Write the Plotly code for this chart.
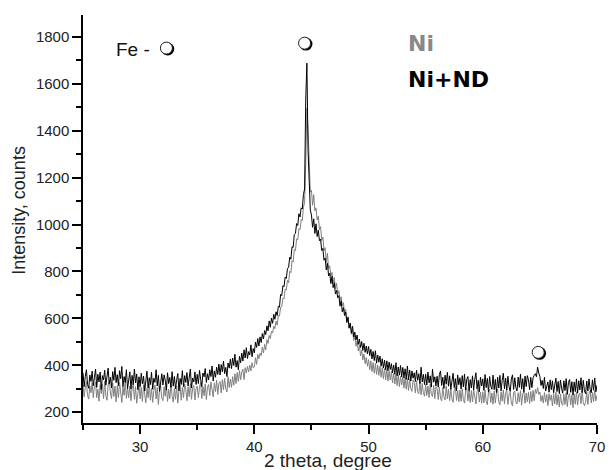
import plotly.graph_objects as go

# XRD scan, 2 theta from 25 to 70 deg, step 0.1
scan_start = 25.0
scan_step = 0.1

# Ni+ND coating (black)
ni_nd = [
    368, 309, 352, 381, 318, 302, 359, 331, 375, 313,
    347, 384, 306, 362, 329, 371, 297, 356, 338, 379,
    315, 366, 388, 321, 349, 304, 373, 336, 391, 326,
    360, 312, 377, 343, 395, 309, 352, 327, 381, 301,
    348, 372, 299, 357, 318, 384, 325, 363, 296, 351,
    309, 366, 321, 354, 290, 341, 375, 303, 347, 318,
    370, 298, 345, 327, 381, 312, 357, 289, 342, 364,
    316, 359, 337, 294, 368, 322, 348, 305, 373, 311,
    352, 300, 338, 365, 291, 344, 318, 377, 309, 356,
    327, 369, 312, 351, 384, 303, 346, 329, 372, 318,
    361, 322, 378, 340, 309, 367, 351, 386, 327, 364,
    338, 381, 352, 397, 333, 376, 349, 392, 361, 405,
    359, 403, 372, 418, 364, 391, 352, 410, 388, 426,
    386, 431, 399, 447, 392, 420, 381, 438, 411, 452,
    418, 466, 431, 475, 429, 458, 444, 487, 436, 471,
    453, 499, 476, 514, 482, 521, 497, 535, 512, 548,
    531, 568, 547, 589, 562, 601, 579, 617, 596, 628,
    612, 651, 648, 702, 697, 739, 735, 776, 770, 812,
    818, 861, 852, 905, 903, 957, 962, 1004, 996, 1046,
    1032, 1071, 1066, 1128, 1151, 1530, 1688, 1320, 1172, 1062,
    1041, 988, 1024, 962, 1003, 949, 976, 931, 938, 889,
    898, 848, 857, 806, 835, 781, 792, 748, 779, 731,
    752, 704, 719, 688, 697, 652, 675, 628, 646, 612,
    627, 582, 604, 558, 580, 537, 566, 521, 541, 508,
    529, 489, 512, 476, 501, 463, 494, 455, 482, 449,
    480, 441, 468, 427, 459, 420, 462, 409, 444, 413,
    439, 396, 428, 388, 422, 381, 419, 377, 414, 382,
    407, 368, 401, 362, 411, 355, 393, 358, 399, 351,
    391, 347, 385, 340, 397, 338, 380, 333, 376, 345,
    368, 331, 379, 336, 364, 322, 392, 329, 361, 318,
    362, 316, 371, 325, 355, 307, 383, 328, 351, 312,
    353, 307, 361, 376, 314, 349, 301, 358, 319, 370,
    311, 355, 298, 348, 366, 305, 343, 292, 359, 317,
    347, 299, 356, 308, 363, 294, 341, 352, 289, 339,
    303, 355, 296, 341, 368, 299, 336, 287, 349, 312,
    342, 293, 361, 305, 344, 286, 352, 311, 298, 358,
    296, 340, 284, 349, 303, 357, 291, 335, 366, 300,
    345, 294, 353, 309, 288, 341, 359, 297, 347, 304,
    291, 350, 306, 362, 298, 343, 285, 354, 309, 356,
    338, 296, 349, 305, 346, 357, 364, 351, 392, 367,
    352, 314, 336, 301, 349, 290, 311, 329, 285, 338,
    296, 334, 283, 327, 345, 288, 331, 279, 337, 302,
    281, 334, 292, 343, 276, 327, 339, 285, 330, 273,
    329, 288, 342, 281, 334, 295, 347, 284, 336, 291,
    279, 333, 290, 342, 297, 283, 338, 294, 346, 287,
    315,
]

# pure Ni coating (grey)
ni = [
    318, 265, 304, 331, 271, 256, 312, 283, 326, 262,
    309, 329, 262, 298, 247, 317, 279, 321, 258, 333,
    271, 251, 314, 336, 282, 258, 325, 267, 311, 244,
    313, 263, 327, 289, 241, 308, 272, 334, 259, 304,
    262, 311, 249, 301, 322, 255, 309, 238, 292, 318,
    257, 306, 246, 314, 276, 240, 303, 262, 321, 251,
    302, 242, 293, 316, 256, 305, 233, 297, 311, 259,
    249, 309, 268, 322, 246, 298, 257, 318, 271, 243,
    301, 255, 312, 239, 289, 317, 251, 306, 262, 320,
    298, 249, 309, 266, 322, 255, 303, 314, 252, 301,
    312, 262, 306, 327, 258, 309, 270, 321, 254, 307,
    318, 271, 329, 283, 265, 325, 288, 337, 276, 322,
    331, 282, 339, 296, 344, 301, 286, 351, 305, 341,
    306, 352, 315, 364, 322, 369, 331, 378, 338, 371,
    384, 339, 390, 367, 395, 372, 401, 376, 411, 389,
    393, 432, 404, 446, 428, 452, 441, 477, 452, 489,
    466, 509, 493, 527, 514, 545, 538, 567, 556, 588,
    571, 611, 610, 648, 650, 686, 683, 725, 721, 762,
    752, 801, 795, 846, 840, 893, 889, 938, 935, 982,
    978, 1021, 1017, 1074, 1093, 1260, 1495, 1410, 1231, 1138,
    1146, 1082, 1127, 1058, 1071, 1019, 1036, 978, 991, 932,
    946, 889, 901, 837, 878, 812, 824, 779, 796, 751,
    774, 727, 750, 703, 718, 676, 692, 654, 667, 622,
    638, 588, 607, 559, 578, 532, 549, 506, 526, 481,
    504, 461, 485, 440, 463, 423, 448, 407, 433, 396,
    424, 381, 419, 373, 412, 366, 408, 361, 401, 357,
    396, 349, 389, 343, 386, 339, 382, 333, 377, 337,
    374, 325, 366, 320, 363, 313, 359, 309, 354, 316,
    351, 303, 348, 298, 343, 293, 340, 301, 289, 338,
    327, 282, 334, 288, 279, 329, 274, 322, 283, 268,
    319, 271, 312, 262, 321, 275, 266, 315, 258, 309,
    302, 254, 307, 261, 248, 305, 265, 252, 311, 257,
    298, 249, 303, 257, 242, 296, 307, 250, 292, 245,
    295, 246, 300, 254, 239, 293, 304, 248, 288, 241,
    292, 244, 298, 252, 235, 289, 301, 243, 285, 238,
    287, 240, 294, 246, 232, 286, 297, 241, 282, 234,
    290, 239, 284, 299, 244, 231, 287, 247, 295, 236,
    281, 294, 233, 278, 286, 239, 227, 284, 291, 242,
    235, 283, 243, 292, 230, 279, 287, 238, 282, 244,
    285, 237, 288, 245, 293, 249, 297, 280, 305, 276,
    286, 246, 271, 239, 284, 243, 276, 228, 279, 250,
    274, 227, 280, 235, 286, 231, 275, 222, 278, 237,
    229, 277, 233, 283, 224, 272, 279, 231, 274, 220,
    278, 234, 287, 230, 275, 281, 236, 290, 241, 228,
    242, 287, 233, 282, 291, 239, 284, 245, 295, 248,
    272,
]

two_theta = [round(scan_start + i * scan_step, 1) for i in range(len(ni_nd))]

# Fe reflections marked with circles (first one is the key next to "Fe -")
fe_x = [32.3, 44.4, 64.85]
fe_y = [1752, 1773, 455]

fig = go.Figure()
fig.add_trace(go.Scatter(x=two_theta, y=ni, mode='lines',
                         line=dict(color='#808080', width=1), name='Ni'))
fig.add_trace(go.Scatter(x=two_theta, y=ni_nd, mode='lines',
                         line=dict(color='black', width=1), name='Ni+ND'))
# shadowed open circles
fig.add_trace(go.Scatter(x=[v + 0.12 for v in fe_x], y=[v - 4 for v in fe_y], mode='markers',
                         marker=dict(size=13, color='black'), hoverinfo='skip'))
fig.add_trace(go.Scatter(x=fe_x, y=fe_y, mode='markers',
                         marker=dict(size=12, color='white', line=dict(color='#222', width=1)),
                         hoverinfo='skip'))

fig.add_annotation(x=29.4, y=1745, text='Fe -', showarrow=False,
                   font=dict(family='Liberation Sans, Arial', size=19, color='#111'))
fig.add_annotation(x=0.628, xref='paper', y=44, yref='y domain', text='<b>Ni</b>',
                   showarrow=False, xanchor='left', yanchor='middle',
                   font=dict(family='DejaVu Sans', size=22, color='#888888'))
fig.add_annotation(x=0.628, xref='paper', y=79, yref='y domain', text='<b>Ni+ND</b>',
                   showarrow=False, xanchor='left', yanchor='middle',
                   font=dict(family='DejaVu Sans', size=22, color='black'))
# axis titles
fig.add_annotation(x=0.477, xref='paper', y=-0.093, yref='paper', text='2 theta, degree',
                   showarrow=False, xanchor='center', yanchor='middle',
                   font=dict(family='Liberation Sans, Arial', size=19, color='#222'))
fig.add_annotation(x=-0.1245, xref='paper', y=0.52, yref='paper', text='Intensity, counts',
                   textangle=-90, showarrow=False, xanchor='center', yanchor='middle',
                   font=dict(family='Liberation Sans, Arial', size=18, color='#222'))

# legend text given in pixels from top -> domain fraction
plot_h = 408
for a in fig.layout.annotations:
    if a.yref == 'y domain':
        a.y = 1 - (a.y - 15) / plot_h

axis_common = dict(showline=True, linecolor='black', linewidth=1.5, ticks='outside',
                   ticklen=9, tickwidth=1.5, tickcolor='black', showgrid=False, zeroline=False,
                   tickfont=dict(family='Liberation Sans, Arial', size=15, color='#222'))

fig.update_xaxes(range=[25, 70], dtick=10, tick0=0,
                 minor=dict(ticks='outside', ticklen=5, dtick=5, tick0=0,
                            tickcolor='black', tickwidth=1.5),
                 **axis_common)
fig.update_yaxes(range=[154, 1893], dtick=200, tick0=0,
                 minor=dict(ticks='outside', ticklen=5, dtick=100, tick0=0,
                            tickcolor='black', tickwidth=1.5),
                 **axis_common)

fig.update_layout(width=615, height=470, showlegend=False,
                  margin=dict(l=83, r=10, t=15, b=47),
                  paper_bgcolor='white', plot_bgcolor='white')

# page body has a default 8px margin, drop it so the figure fills the window
fig.write_html("out.html", config={'displayModeBar': False},
               post_script="document.body.style.margin='0';")
